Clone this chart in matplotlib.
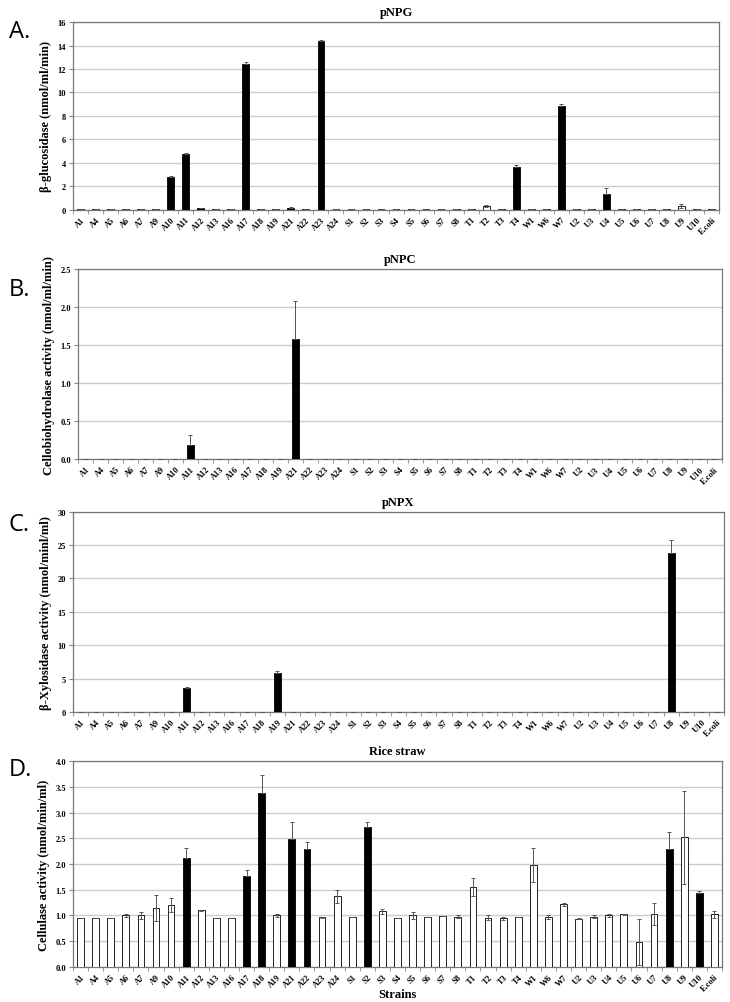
import numpy as np
import matplotlib
matplotlib.use("Agg")
import matplotlib.pyplot as plt

strains = ["A1", "A4", "A5", "A6", "A7", "A9", "A10", "A11", "A12", "A13", "A16",
           "A17", "A18", "A19", "A21", "A22", "A23", "A24", "S1", "S2", "S3", "S4",
           "S5", "S6", "S7", "S8", "T1", "T2", "T3", "T4", "W1", "W6", "W7", "U2",
           "U3", "U4", "U5", "U6", "U7", "U8", "U9", "U10", "E.coli"]

# pNPG (beta-glucosidase)
pnpg = [0.05, 0.05, 0.05, 0.05, 0.05, 0.05, 2.78, 4.72, 0.1, 0.05, 0.05,
        12.45, 0.05, 0.05, 0.15, 0.05, 14.35, 0.05, 0.05, 0.05, 0.05, 0.05,
        0.05, 0.05, 0.05, 0.05, 0.05, 0.3, 0.05, 3.62, 0.05, 0.05, 8.85, 0.05,
        0.05, 1.35, 0.05, 0.05, 0.05, 0.05, 0.3, 0.05, 0.05]
pnpg_err = [0, 0, 0, 0, 0, 0, 0.08, 0.15, 0.04, 0, 0,
            0.15, 0, 0, 0.05, 0, 0.12, 0, 0, 0, 0, 0,
            0, 0, 0, 0, 0, 0.08, 0, 0.15, 0, 0, 0.2, 0,
            0, 0.5, 0, 0, 0, 0, 0.2, 0, 0]
pnpg_black = ["A10", "A11", "A12", "A17", "A21", "A23", "T4", "W7", "U4"]

# pNPC (cellobiohydrolase)
pnpc = [0.005] * 43
pnpc[strains.index("A11")] = 0.19
pnpc[strains.index("A21")] = 1.58
pnpc_err = [0] * 43
pnpc_err[strains.index("A11")] = 0.13
pnpc_err[strains.index("A21")] = 0.5
pnpc_black = ["A11", "A21"]

# pNPX (beta-xylosidase)
pnpx = [0] * 43
pnpx[strains.index("A11")] = 3.6
pnpx[strains.index("A19")] = 5.9
pnpx[strains.index("U8")] = 23.8
pnpx[strains.index("E.coli")] = 0.05
pnpx_err = [0] * 43
pnpx_err[strains.index("A11")] = 0.2
pnpx_err[strains.index("A19")] = 0.2
pnpx_err[strains.index("U8")] = 2.0
pnpx_black = ["A11", "A19", "U8"]

# Rice straw (cellulase)
rice = [0.95, 0.95, 0.96, 1.0, 1.0, 1.14, 1.2, 2.12, 1.1, 0.95, 0.95,
        1.77, 3.38, 1.0, 2.48, 2.29, 0.97, 1.37, 0.97, 2.72, 1.08, 0.95,
        1.0, 0.98, 0.99, 0.98, 1.55, 0.96, 0.95, 0.98, 1.99, 0.97, 1.22, 0.94,
        0.98, 1.0, 1.02, 0.48, 1.03, 2.29, 2.52, 1.43, 1.02]
rice_err = [0.0, 0.0, 0.0, 0.03, 0.06, 0.25, 0.14, 0.2, 0.01, 0.0, 0.0,
            0.11, 0.35, 0.03, 0.34, 0.14, 0.01, 0.12, 0.0, 0.1, 0.05, 0.0,
            0.07, 0.0, 0.0, 0.02, 0.17, 0.04, 0.03, 0.0, 0.33, 0.03, 0.03, 0.01,
            0.03, 0.03, 0.01, 0.45, 0.22, 0.33, 0.9, 0.05, 0.06]
rice_black = ["A11", "A17", "A18", "A21", "A22", "S2", "U8", "U10"]

# letter, title, values, errors, black bars, ylim, yticks, format, ylabel,
# axes box (left, bottom, right, top) and letter y in figure fraction
panels = [
    ("A.", "pNPG", pnpg, pnpg_err, pnpg_black, (0, 16), np.arange(0, 17, 2), "%d",
     "β-glucosidase (nmol/ml/min)", [0.100, 0.790, 0.985, 0.977], 0.968),
    ("B.", "pNPC", pnpc, pnpc_err, pnpc_black, (0, 2.5), np.arange(0, 2.6, 0.5), "%.1f",
     "Cellobiohydrolase activity (nmol/ml/min)", [0.107, 0.541, 0.989, 0.731], 0.711),
    ("C.", "pNPX", pnpx, pnpx_err, pnpx_black, (0, 30), np.arange(0, 31, 5), "%d",
     "β-Xylosidase activity (nmol/minl/ml)", [0.100, 0.289, 0.992, 0.489], 0.477),
    ("D.", "Rice straw", rice, rice_err, rice_black, (0, 4.0), np.arange(0, 4.1, 0.5), "%.1f",
     "Cellulase activity (nmol/min/ml)", [0.100, 0.035, 0.989, 0.240], 0.232),
]

fig = plt.figure(figsize=(7.3, 10.03), dpi=100)
serif = ["Liberation Serif", "DejaVu Serif"]
x = np.arange(len(strains))

for letter, title, vals, errs, black, ylim, yticks, fmt, ylabel, box, ly in panels:
    l, b, r, t = box
    ax = fig.add_axes([l, b, r - l, t - b])
    colors = ["black" if s in black else "white" for s in strains]
    ax.bar(x, vals, width=0.45, color=colors, edgecolor="black", linewidth=0.6, zorder=3)
    # lower whisker hidden inside black bars
    lower = [0 if s in black else e for s, e in zip(strains, errs)]
    ax.errorbar(x, vals, yerr=[lower, errs], fmt="none", ecolor="#555555", elinewidth=0.7,
                capsize=1.5, capthick=0.7, zorder=4)
    ax.set_xlim(-0.5, len(strains) - 0.5)
    ax.set_ylim(*ylim)
    ax.set_yticks(yticks)
    ax.set_yticklabels([fmt % v for v in yticks], fontsize=6, fontfamily=serif, fontweight="bold")
    ax.set_xticks(x)
    ax.set_xticklabels(strains, rotation=45, ha="right", rotation_mode="anchor",
                       fontsize=6, fontfamily=serif, fontweight="bold")
    ax.set_xticks(np.arange(-0.5, len(strains), 1), minor=True)
    ax.tick_params(axis="x", which="major", length=0, pad=4)
    ax.tick_params(axis="x", which="minor", length=3, direction="out", color="#888888")
    ax.tick_params(axis="y", length=3, direction="out", color="#888888", pad=2)
    ax.yaxis.grid(True, color="#cccccc", linewidth=1.0, zorder=0)
    ax.set_axisbelow(True)
    for sp in ax.spines.values():
        sp.set_color("#777777")
        sp.set_linewidth(0.9)
    ax.set_ylabel(ylabel, fontsize=9, fontfamily=serif, fontweight="bold", labelpad=4)
    ax.set_title(title, fontsize=9, fontfamily=serif, fontweight="bold", pad=5)
    fig.text(0.012, ly, letter, fontsize=17, fontfamily="Open Sans", va="center")
    if title == "Rice straw":
        fig.text(l + (r - l) / 2, 0.008, "Strains", fontsize=9, fontfamily=serif,
                 fontweight="bold", ha="center", va="center")

fig.savefig("out.png", dpi=100)
